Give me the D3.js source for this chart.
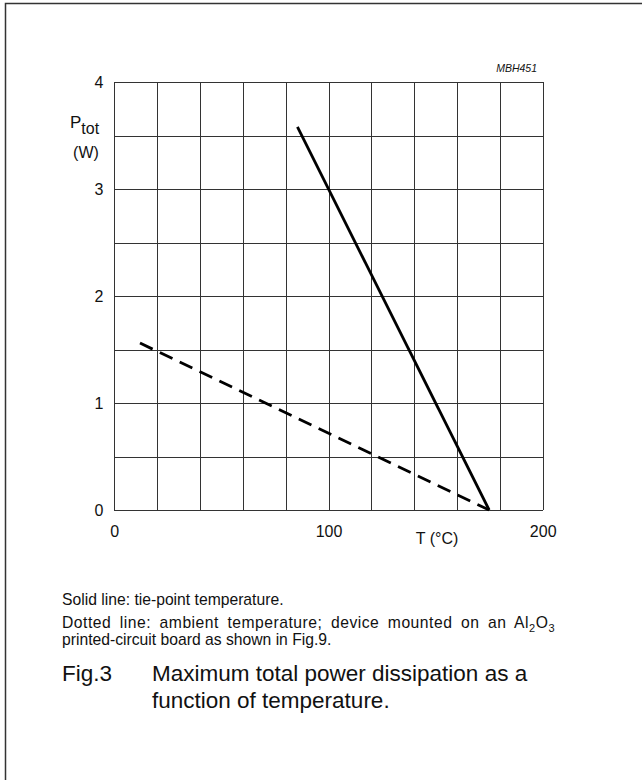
<!DOCTYPE html>
<html>
<head>
<meta charset="UTF-8">
<script src="https://cdn.jsdelivr.net/npm/d3@7/dist/d3.min.js"></script>
<style>
  body { margin: 0; background: #fff; }
  svg { display: block; font-family: "Liberation Sans", Arial, sans-serif; }
  .grid line { stroke: #333; stroke-width: 1; shape-rendering: crispEdges; }
  .grid path { display: none; }
  .lbl path, .lbl line { display: none; }
  .lbl text { font-size: 16px; fill: #111; font-family: "Liberation Sans", Arial, sans-serif; }
</style>
</head>
<body>
<div id="chart"></div>
<script>
// data
const tempTicks = [0, 100, 200];
const powerTicks = [0, 1, 2, 3, 4];
const gridTemp = [0, 20, 40, 60, 80, 100, 120, 140, 160, 180, 200];
const gridPower = [0, 0.5, 1, 1.5, 2, 2.5, 3, 3.5, 4];
// tie-point (solid) and ambient (dashed) derating curves
const tiePointT = [85.5, 175];
const tiePointP = [3.58, 0];
const ambientT = [12, 175];
const ambientP = [1.56, 0];

const W = 642, H = 780;
const svg = d3.select("#chart").append("svg").attr("width", W).attr("height", H);

// outer frame (only top and left edges visible)
svg.append("path")
  .attr("d", "M5.5,780V3.5H642")
  .attr("fill", "none").attr("stroke", "#333").attr("stroke-width", 1.5);

const x = d3.scaleLinear().domain([0, 200]).range([114.3, 542.7]);
const y = d3.scaleLinear().domain([0, 4]).range([510, 82]);

// grid
svg.append("g").attr("class", "grid")
  .attr("transform", `translate(0,${y(0)})`)
  .call(d3.axisBottom(x).tickValues(gridTemp).tickSize(-(y(0) - y(4))).tickFormat(""));
svg.append("g").attr("class", "grid")
  .attr("transform", `translate(${x(0)},0)`)
  .call(d3.axisLeft(y).tickValues(gridPower).tickSize(-(x(200) - x(0))).tickFormat(""));

// tick labels
svg.append("g").attr("class", "lbl")
  .attr("transform", `translate(${x(0) - 11},0)`)
  .call(d3.axisLeft(y).tickValues(powerTicks).tickSize(0).tickPadding(0).tickFormat(d3.format("d")));
svg.append("g").attr("class", "lbl")
  .attr("transform", `translate(0,${y(0) + 16})`)
  .call(d3.axisBottom(x).tickValues(tempTicks).tickSize(0).tickPadding(0).tickFormat(d3.format("d")));

// axis titles
const ptot = svg.append("text").attr("x", 70).attr("y", 128)
  .attr("font-size", 17).attr("fill", "#111");
ptot.append("tspan").text("P");
ptot.append("tspan").attr("dy", 6).attr("font-size", 16).text("tot");
svg.append("text").attr("x", 86).attr("y", 158).attr("text-anchor", "middle")
  .attr("font-size", 16).attr("fill", "#111").text("(W)");
svg.append("text").attr("x", 437).attr("y", 544).attr("text-anchor", "middle")
  .attr("font-size", 16).attr("fill", "#111").text("T (\u00B0C)");
svg.append("text").attr("x", 537).attr("y", 72).attr("text-anchor", "end")
  .attr("font-size", 10.5).attr("font-style", "italic").attr("fill", "#111").text("MBH451");

// curves
const line = d3.line().x(d => x(d[0])).y(d => y(d[1]));
svg.append("path")
  .datum(d3.zip(tiePointT, tiePointP))
  .attr("d", line).attr("fill", "none").attr("stroke", "#000").attr("stroke-width", 2.8);
svg.append("path")
  .datum(d3.zip(ambientT, ambientP))
  .attr("d", line).attr("fill", "none").attr("stroke", "#000").attr("stroke-width", 2.8)
  .attr("stroke-dasharray", "14,8");

// notes
const notes = svg.append("g").attr("font-size", 15.7).attr("fill", "#111");
notes.append("text").attr("x", 62).attr("y", 605).text("Solid line: tie-point temperature.");
const n2 = notes.append("text").attr("x", 62).attr("y", 628);
n2.append("tspan").text("Dotted line: ambient temperature; device mounted on an Al");
n2.append("tspan").attr("font-size", 11).attr("dy", 4).text("2");
n2.append("tspan").attr("dy", -4).text("O");
n2.append("tspan").attr("font-size", 11).attr("dy", 4).text("3");
// justified line: stretch to the column edge (half letters, half word gaps)
{
  const natural = n2.node().getComputedTextLength();
  const txt = n2.text();
  const nSpaces = txt.split(" ").length - 1;
  const extra = (555 - 62) - natural;
  if (extra > 0) {
    n2.attr("letter-spacing", (extra * 0.5) / txt.length)
      .attr("word-spacing", (extra * 0.5) / nSpaces);
  }
}
notes.append("text").attr("x", 62).attr("y", 645).text("printed-circuit board as shown in Fig.9.");

// caption
const cap = svg.append("g").attr("font-size", 22.5).attr("fill", "#111");
cap.append("text").attr("x", 62).attr("y", 681).text("Fig.3");
cap.append("text").attr("x", 152).attr("y", 681).text("Maximum total power dissipation as a");
cap.append("text").attr("x", 152).attr("y", 708).text("function of temperature.");
</script>
</body>
</html>
